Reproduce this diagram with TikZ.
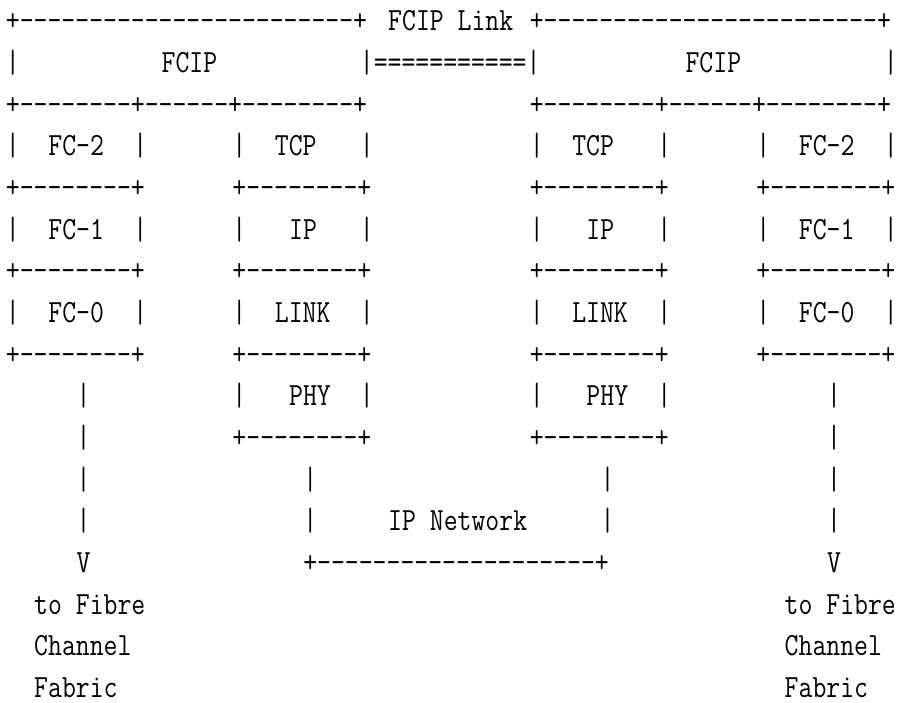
\documentclass[tikz,border=0pt]{standalone}
\usepackage{fontspec}
\usepackage{graphicx}
\tikzset{
  asc/.style={anchor=base west, inner sep=0pt, outer sep=0pt,
    font=\fontsize{13.486pt}{16pt}\selectfont\ttfamily},
}
\newcommand\tx[1]{\scalebox{1}[1.2]{#1}}
\begin{document}
\begin{tikzpicture}
\useasboundingbox (0,0) rectangle (450pt,351pt);
\foreach \c/\r/\t [count=\i] in {
  0/1/{+------------------------+}, 27/1/{FCIP Link}, 37/1/{+------------------------+},
  0/2/{|}, 11/2/{FCIP}, 25/2/{|===========|}, 48/2/{FCIP}, 62/2/{|},
  0/3/{+--------+------+--------+}, 37/3/{+--------+------+--------+},
  0/4/{|}, 3/4/{FC-2}, 9/4/{|}, 16/4/{|}, 19/4/{TCP}, 25/4/{|},
  37/4/{|}, 40/4/{TCP}, 46/4/{|}, 53/4/{|}, 56/4/{FC-2}, 62/4/{|},
  0/5/{+--------+}, 16/5/{+--------+}, 37/5/{+--------+}, 53/5/{+--------+},
  0/6/{|}, 3/6/{FC-1}, 9/6/{|}, 16/6/{|}, 20/6/{IP}, 25/6/{|},
  37/6/{|}, 41/6/{IP}, 46/6/{|}, 53/6/{|}, 56/6/{FC-1}, 62/6/{|},
  0/7/{+--------+}, 16/7/{+--------+}, 37/7/{+--------+}, 53/7/{+--------+},
  0/8/{|}, 3/8/{FC-0}, 9/8/{|}, 16/8/{|}, 19/8/{LINK}, 25/8/{|},
  37/8/{|}, 40/8/{LINK}, 46/8/{|}, 53/8/{|}, 56/8/{FC-0}, 62/8/{|},
  0/9/{+--------+}, 16/9/{+--------+}, 37/9/{+--------+}, 53/9/{+--------+},
  5/10/{|}, 16/10/{|}, 20/10/{PHY}, 25/10/{|}, 37/10/{|}, 41/10/{PHY}, 46/10/{|}, 58/10/{|},
  5/11/{|}, 16/11/{+--------+}, 37/11/{+--------+}, 58/11/{|},
  5/12/{|}, 21/12/{|}, 42/12/{|}, 58/12/{|},
  5/13/{|}, 21/13/{|}, 27/13/{IP Network}, 42/13/{|}, 58/13/{|},
  5/14/{V}, 21/14/{+--------------------+}, 58/14/{V},
  2/15/{to Fibre}, 55/15/{to Fibre},
  2/16/{Channel}, 55/16/{Channel},
  2/17/{Fabric}, 55/17/{Fabric}}
  \node[asc] (s\i) at ({2.96pt+7.08pt*\c},{335.6pt-20.83pt*(\r-1)}) {\tx{\t}};
\end{tikzpicture}
\end{document}
